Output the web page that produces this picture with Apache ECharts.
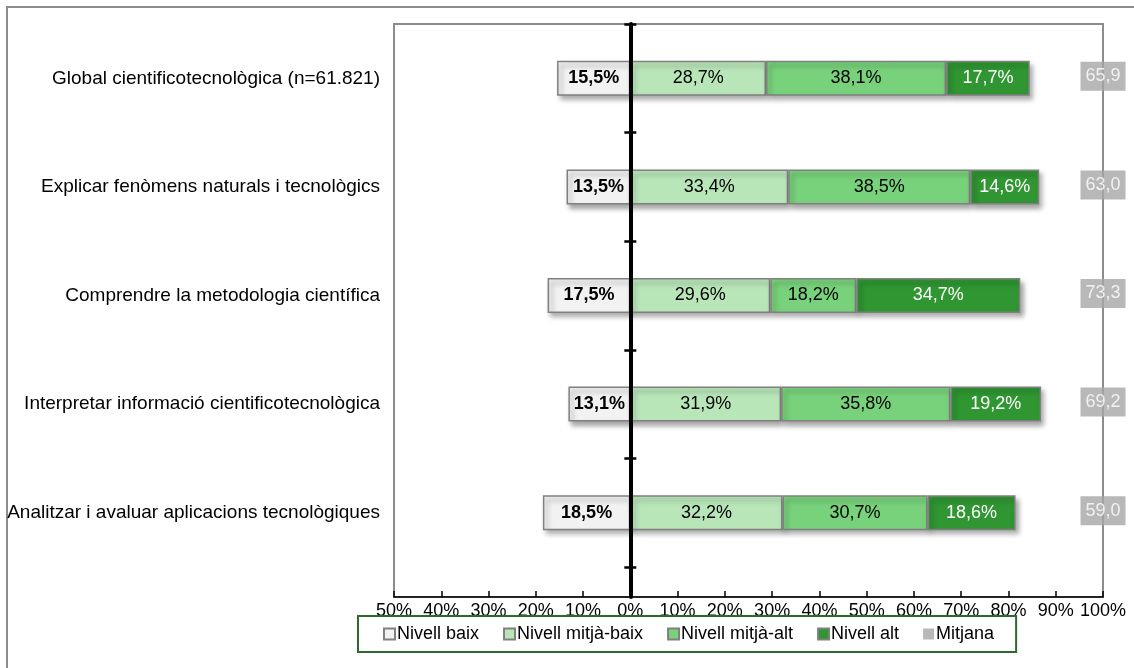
<!DOCTYPE html>
<html>
<head>
<meta charset="utf-8">
<script src="https://cdn.jsdelivr.net/npm/echarts@6/dist/echarts.min.js"></script>
<style>
  html, body { margin: 0; padding: 0; background: #fff; }
  #chart { width: 1134px; height: 668px; }
</style>
</head>
<body>
<div id="chart"></div>
<script>
const categories = [
  'Global cientificotecnològica (n=61.821)',
  'Explicar fenòmens naturals i tecnològics',
  'Comprendre la metodologia científica',
  'Interpretar informació cientificotecnològica',
  'Analitzar i avaluar aplicacions tecnològiques'
]
const nivellBaix = [15.5, 13.5, 17.5, 13.1, 18.5]
const nivellMitjaBaix = [28.7, 33.4, 29.6, 31.9, 32.2]
const nivellMitjaAlt = [38.1, 38.5, 18.2, 35.8, 30.7]
const nivellAlt = [17.7, 14.6, 34.7, 19.2, 18.6]
const mitjana = [65.9, 63.0, 73.3, 69.2, 59.0]

const FONT = "'Liberation Sans', Arial, sans-serif"
const fmt = v => Math.abs(v).toFixed(1).replace('.', ',')

const barShadow = {
  borderColor: '#808080',
  borderWidth: 1.5,
  shadowColor: 'rgba(0,0,0,0.35)',
  shadowBlur: 5,
  shadowOffsetX: 3,
  shadowOffsetY: 4
}

const barSeries = (name, data, color, labelColor, bold) => ({
  name,
  type: 'bar',
  stack: 'total',
  xAxisIndex: 1,
  yAxisIndex: 1,
  barWidth: 35,
  data,
  itemStyle: Object.assign({ color }, barShadow),
  label: {
    show: true,
    position: 'inside',
    color: labelColor,
    fontSize: 18,
    fontFamily: FONT,
    fontWeight: bold ? 'bold' : 'normal',
    formatter: p => fmt(p.value) + '%'
  }
})

const chart = echarts.init(document.getElementById('chart'))

// ticks crossing the zero line at the category boundaries
const tickAxis = inside => ({
  type: 'category',
  gridIndex: 1,
  inverse: true,
  data: categories,
  position: 'left',
  z: 6,
  axisLine: { show: false, onZero: true, onZeroAxisIndex: 1 },
  axisTick: { show: true, inside, length: 6, lineStyle: { color: '#000', width: 2.5 } },
  axisLabel: { show: false },
  splitLine: { show: false }
})

chart.setOption({
  backgroundColor: '#fff',
  textStyle: { fontFamily: FONT, color: '#000' },
  animation: false,
  graphic: [{
    type: 'rect',
    shape: { x: 7, y: 7, width: 1140, height: 680 },
    style: { fill: 'none', stroke: '#8c8c8c', lineWidth: 2 },
    silent: true
  }],
  legend: {
    left: 358,
    top: 616,
    orient: 'horizontal',
    data: ['Nivell baix', 'Nivell mitjà-baix', 'Nivell mitjà-alt', 'Nivell alt', 'Mitjana'],
    icon: 'rect',
    itemWidth: 11,
    itemHeight: 11,
    itemGap: 24,
    padding: [9, 22, 9, 25],
    backgroundColor: '#fff',
    borderColor: '#2d6a2d',
    borderWidth: 2,
    borderRadius: 0,
    textStyle: { fontSize: 18, color: '#000', fontFamily: FONT, padding: [0, 0, 0, -3] }
  },
  grid: [
    { left: 394, right: 31, top: 24, bottom: 71, show: true, borderColor: '#8c8c8c', borderWidth: 2, backgroundColor: 'transparent' },
    { left: 394, right: 31, top: 24, bottom: 101 }
  ],
  xAxis: [
    {
      type: 'value',
      gridIndex: 0,
      min: -50,
      max: 100,
      interval: 10,
      axisLine: { show: true, lineStyle: { color: '#000', width: 1.5 } },
      axisTick: { show: true, inside: true, length: 6, lineStyle: { color: '#000', width: 1.5 } },
      axisLabel: { color: '#000', fontSize: 18, fontFamily: FONT, margin: 5, formatter: v => Math.abs(v) + '%' },
      splitLine: { show: false }
    },
    {
      type: 'value',
      gridIndex: 1,
      min: -50,
      max: 100,
      show: false
    }
  ],
  yAxis: [
    {
      type: 'value',
      gridIndex: 0,
      min: 0,
      max: 1,
      z: 5,
      axisLine: { show: true, onZero: true, lineStyle: { color: '#000', width: 4 } },
      axisTick: { show: false },
      axisLabel: { show: false },
      splitLine: { show: false }
    },
    {
      type: 'category',
      gridIndex: 1,
      inverse: true,
      data: categories,
      position: 'left',
      axisLine: { show: false, onZero: false },
      axisTick: { show: false },
      axisLabel: { color: '#000', fontSize: 19, fontFamily: FONT, margin: 14 },
      splitLine: { show: false }
    },
    tickAxis(false),
    tickAxis(true)
  ],
  series: [
    barSeries('Nivell baix', nivellBaix.map(v => -v), '#f2f2f2', '#000', true),
    barSeries('Nivell mitjà-baix', nivellMitjaBaix, '#b9e6b9', '#000', false),
    barSeries('Nivell mitjà-alt', nivellMitjaAlt, '#78d27b', '#000', false),
    barSeries('Nivell alt', nivellAlt, '#2f9632', '#fff', false),
    {
      name: 'Mitjana',
      type: 'scatter',
      xAxisIndex: 1,
      yAxisIndex: 1,
      symbolSize: 0,
      itemStyle: { color: '#a6a6a6' },
      data: mitjana.map((v, i) => [100, i, v]),
      encode: { x: 0, y: 1 },
      z: 4,
      label: {
        show: true,
        position: 'inside',
        offset: [0, -2],
        color: '#fff',
        fontSize: 18,
        fontFamily: FONT,
        backgroundColor: '#a6a6a6',
        padding: [6, 5, 5, 5],
        formatter: p => fmt(p.value[2])
      }
    }
  ]
})
</script>
</body>
</html>
